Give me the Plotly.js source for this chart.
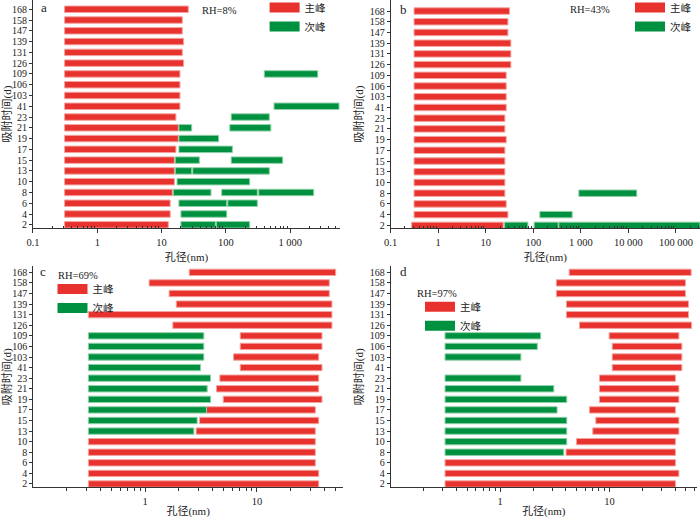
<!DOCTYPE html>
<html>
<head>
<meta charset="utf-8">
<script src="https://cdn.plot.ly/plotly-3.0.1.min.js"></script>
<style>
  html, body { margin: 0; padding: 0; background: #fff; }
  #chart { width: 700px; height: 518px; }
</style>
</head>
<body>
<div id="chart"></div>
<script>
// adsorption time (d), bottom to top
const days = ['2', '4', '6', '8', '10', '13', '15', '17', '19', '21', '23',
  '41', '103', '106', '109', '126', '131', '139', '147', '158', '168'];

// a: RH=8%
const aMainStart = [0.31, 0.31, 0.31, 0.31, 0.31, 0.31, 0.31, 0.31, 0.31, 0.31, 0.31,
  0.31, 0.31, 0.31, 0.31, 0.31, 0.31, 0.31, 0.31, 0.31, 0.31];
const aMainEnd = [12.7, 13.6, 13.6, 14.7, 15.8, 15.8, 15.8, 16.7, 18.2, 18.2, 16.7,
  19.3, 19.3, 19.3, 19.3, 22, 21, 22, 21, 21, 26];
const aSecDay = ['2', '2', '4', '6', '6', '8', '8', '8', '10', '13', '13', '15', '15',
  '17', '19', '21', '21', '23', '41', '109'];
const aSecStart = [20, 71, 20, 18.6, 107, 15.2, 86, 324, 17.4, 16.3, 30.5, 16.3, 121,
  18.6, 18.6, 18.6, 115, 121, 560, 395];
const aSecEnd = [68.5, 234, 103, 103, 308, 58.6, 308, 2318, 234, 29.4, 473, 38.6, 764,
  126, 77, 29.4, 500, 473, 5740, 2680];

// b: RH=43%
const bMainStart = [0.276, 0.31, 0.31, 0.31, 0.31, 0.31, 0.31, 0.31, 0.31, 0.31, 0.31,
  0.31, 0.31, 0.31, 0.31, 0.31, 0.31, 0.31, 0.31, 0.31, 0.31];
const bMainEnd = [23.3, 29.2, 26.9, 25.2, 25.2, 25.2, 25.2, 25.2, 26.9, 25.2, 25.2,
  26.9, 26.9, 26.9, 26.9, 33.7, 33.7, 33.7, 29.2, 29.2, 31.6];
const bSecDay = ['2', '2', '2', '4', '8'];
const bSecStart = [24.8, 104, 344, 137, 906];
const bSecEnd = [76.8, 333, 320000, 656, 14970];

// c: RH=69%
const cMainStart = [0.311, 0.311, 0.311, 0.311, 0.311, 2.86, 3.07, 3.54, 5.0, 4.35, 4.66,
  7.09, 6.18, 7.09, 7.09, 1.77, 0.311, 1.9, 1.64, 1.086, 2.48];
const cMainEnd = [35.7, 35.7, 33.3, 33.3, 33.3, 33.3, 35.7, 33.3, 38.2, 35.7, 35.7,
  38.2, 35.7, 38.2, 38.2, 46.9, 46.9, 46.9, 44.4, 44.4, 50.6];
const cSecDay = ['13', '15', '17', '19', '21', '23', '41', '103', '106', '109'];
const cSecStart = [0.311, 0.311, 0.311, 0.311, 0.311, 0.311, 0.311, 0.311, 0.311, 0.311];
const cSecEnd = [2.73, 2.92, 3.54, 3.85, 3.59, 3.85, 3.13, 3.35, 3.35, 3.35];

// d: RH=97%
const dMainStart = [0.314, 0.314, 0.314, 4.01, 4.99, 7.04, 7.5, 6.56, 8.1, 8.1, 8.1,
  10.6, 10.6, 10.6, 9.93, 5.32, 4.04, 4.04, 3.27, 3.27, 4.28];
const dMainEnd = [40.1, 43.1, 40.1, 40.1, 40.1, 43.1, 43.1, 40.1, 43.1, 43.1, 40.1,
  45.9, 45.9, 45.9, 43.1, 56.3, 52.8, 52.8, 49.5, 49.5, 55.8];
const dSecDay = ['8', '10', '13', '15', '17', '19', '21', '23', '103', '106', '109'];
const dSecStart = [0.314, 0.314, 0.314, 0.314, 0.314, 0.314, 0.314, 0.314, 0.314, 0.314, 0.314];
const dSecEnd = [3.82, 4.07, 4.07, 4.07, 3.32, 4.07, 3.10, 1.55, 1.55, 2.19, 2.35];

const RED = '#e8322e';
const GREEN = '#009140';
const SERIF = '"Liberation Serif", "Times New Roman", "Noto Sans CJK SC", serif';
const TEXT = '#222';

const panels = [
  { ax: '', label: 'a', rh: 'RH=8%', legend: 'legend',
    main: [days, aMainStart, aMainEnd], sec: [aSecDay, aSecStart, aSecEnd] },
  { ax: '2', label: 'b', rh: 'RH=43%', legend: 'legend2',
    main: [days, bMainStart, bMainEnd], sec: [bSecDay, bSecStart, bSecEnd] },
  { ax: '3', label: 'c', rh: 'RH=69%', legend: 'legend3',
    main: [days, cMainStart, cMainEnd], sec: [cSecDay, cSecStart, cSecEnd] },
  { ax: '4', label: 'd', rh: 'RH=97%', legend: 'legend4',
    main: [days, dMainStart, dMainEnd], sec: [dSecDay, dSecStart, dSecEnd] },
];

function barTrace(series, color, edge, ax) {
  const [y, start, end] = series;
  return {
    type: 'bar', orientation: 'h',
    y: y, base: start, x: end.map((e, i) => e - start[i]),
    marker: { color: color, line: { color: edge, width: 1 } },
    xaxis: 'x' + ax, yaxis: 'y' + ax,
    showlegend: false, hoverinfo: 'skip',
  };
}

function legendTrace(name, color, ax, legend) {
  return {
    type: 'scatter', mode: 'lines', x: [null], y: [null], name: name,
    line: { color: color, width: 10 },
    xaxis: 'x' + ax, yaxis: 'y' + ax, legend: legend, hoverinfo: 'skip',
  };
}

const traces = [];
panels.forEach(p => {
  traces.push(barTrace(p.main, RED, '#f3a39f', p.ax));
  traces.push(barTrace(p.sec, GREEN, '#8fd0a6', p.ax));
  traces.push(legendTrace('主峰', RED, p.ax, p.legend));
  traces.push(legendTrace('次峰', GREEN, p.ax, p.legend));
});

function minorVals(lo, hi) {
  const v = [];
  for (let e = lo; e < hi; e++) {
    for (let m = 2; m <= 9; m++) v.push(m * Math.pow(10, e));
  }
  return v;
}

function xAxis(domain, range, anchor, vals, texts, minorTicks, minorHi) {
  return {
    type: 'log', domain: domain, range: range, anchor: anchor,
    showline: true, linecolor: '#333', linewidth: 1,
    ticks: 'outside', ticklen: 4, tickcolor: '#333',
    tickmode: 'array', tickvals: vals, ticktext: texts,
    tickfont: { family: SERIF, size: 10.5, color: TEXT },
    minor: { tickmode: 'array', tickvals: minorVals(-1, minorHi), ticks: minorTicks,
      ticklen: 2.5, tickcolor: '#333', showgrid: false },
    showgrid: false, zeroline: false,
    title: { text: '孔径(nm)', font: { family: SERIF, size: 11, color: TEXT }, standoff: 6 },
  };
}

function yAxis(domain, range, anchor) {
  return {
    type: 'category', categoryorder: 'array', categoryarray: days,
    domain: domain, range: range, anchor: anchor,
    tickmode: 'array', tickvals: days,
    showline: true, linecolor: '#333', linewidth: 1,
    ticks: 'outside', ticklen: 3, tickcolor: '#333',
    tickfont: { family: SERIF, size: 10, color: TEXT },
    showgrid: false, zeroline: false,
    title: { text: '吸附时间(d)', font: { family: SERIF, size: 11, color: TEXT }, standoff: 3 },
  };
}

const legendBase = {
  font: { family: SERIF, size: 10.5, color: TEXT },
  bgcolor: 'rgba(0,0,0,0)', borderwidth: 0,
  xanchor: 'left', yanchor: 'top', itemclick: false,
};

function note(text, ax, x, y, size, anchor) {
  return {
    text: text, xref: 'x' + ax + ' domain', yref: 'y' + ax + ' domain',
    x: x, y: y, xanchor: anchor, yanchor: 'middle', showarrow: false,
    font: { family: SERIF, size: size, color: TEXT },
  };
}

const layout = {
  width: 700, height: 518,
  margin: { l: 0, r: 0, t: 0, b: 0, autoexpand: false },
  paper_bgcolor: '#fff', plot_bgcolor: '#fff',
  barmode: 'overlay', bargap: 0.4,
  xaxis: xAxis([0.0471, 0.4857], [-1, 3.774], 'y',
    [0.1, 1, 10, 100, 1000], ['0.1', '1', '10', '100', '1 000'], 'inside', 4),
  yaxis: yAxis([0.5598, 1], [-0.3, 20.86], 'x'),
  xaxis2: xAxis([0.5581, 1], [-1, 5.505], 'y2',
    [0.1, 1, 10, 100, 1000, 10000, 100000],
    ['0.1', '1', '10', '100', '1 000', '10 000', '100 000'], 'inside', 6),
  yaxis2: yAxis([0.5598, 1], [-0.25, 21.03], 'x2'),
  xaxis3: xAxis([0.0476, 0.49], [-1, 1.77], 'y3', [1, 10], ['1', '10'], 'outside', 2),
  yaxis3: yAxis([0.0589, 0.4865], [-0.33, 20.6], 'x3'),
  xaxis4: xAxis([0.5581, 0.9957], [-1, 1.8], 'y4', [1, 10], ['1', '10'], 'outside', 2),
  yaxis4: yAxis([0.0589, 0.4865], [-0.33, 20.6], 'x4'),
  legend: Object.assign({ x: 0.378, y: 1.0135 }, legendBase),
  legend2: Object.assign({ x: 0.9, y: 1.0135 }, legendBase),
  legend3: Object.assign({ x: 0.075, y: 0.47 }, legendBase),
  legend4: Object.assign({ x: 0.6, y: 0.436 }, legendBase),
  annotations: [
    note('a', '', 0.02, 0.969, 13, 'left'),
    note('RH=8%', '', 0.609, 0.956, 10.5, 'center'),
    note('b', '2', 0.024, 0.96, 13, 'left'),
    note('RH=43%', '2', 0.644, 0.958, 10.5, 'center'),
    note('c', '3', 0.016, 0.973, 13, 'left'),
    note('RH=69%', '3', 0.144, 0.959, 10.5, 'center'),
    note('d', '4', 0.024, 0.973, 13, 'left'),
    note('RH=97%', '4', 0.151, 0.874, 10.5, 'center'),
  ],
};

Plotly.newPlot('chart', traces, layout, { staticPlot: true });
</script>
</body>
</html>
